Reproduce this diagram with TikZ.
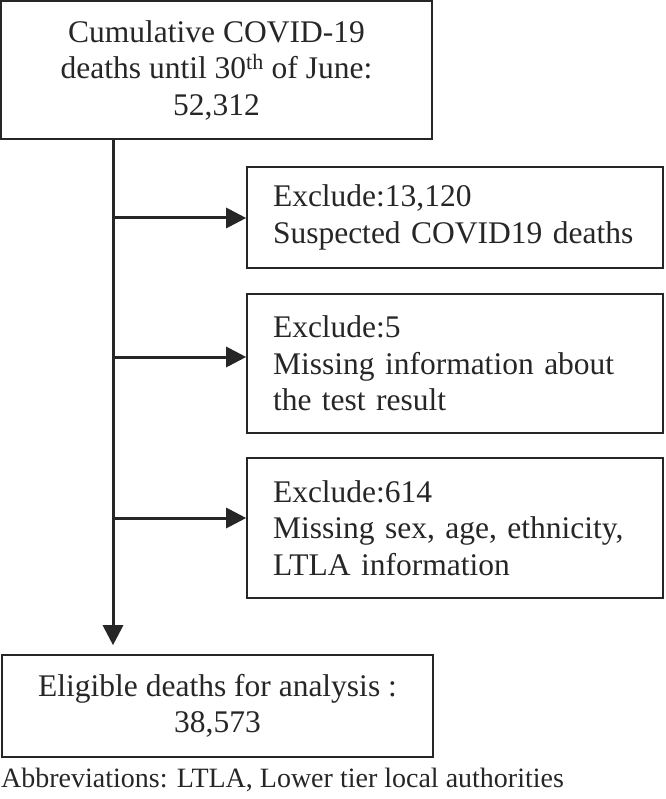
\documentclass[tikz,border=0pt]{standalone}
\usepackage{fontspec}
\setmainfont{Liberation Serif}
\usetikzlibrary{arrows.meta}
\definecolor{ink}{HTML}{262626}
\tikzset{
  mainbox/.style={draw=ink, line width=1.6pt, text=ink, inner sep=0pt, align=center,
    font=\fontsize{31.5}{36.5}\selectfont},
  exclbox/.style={mainbox, align=left, minimum width=416pt, text width=364pt, inner xsep=26pt},
  flowarrow/.style={draw=ink, line width=3pt, -{Triangle[length=20pt,width=20pt]}},
}
\begin{document}
\begin{tikzpicture}[x=1pt, y=-1pt]
  \useasboundingbox (0,0) rectangle (665,799);

  % Caixas
  \node[mainbox, minimum width=431pt, minimum height=138pt] (total) at (216.5,70)
    {Cumulative COVID-19\\deaths until 30\textsuperscript{th} of June:\\52,312};
  \node[exclbox, minimum height=101pt] (ex1) at (455,217.5)
    {Exclude:13,120\\Suspected COVID19 deaths};
  \node[exclbox, minimum height=139pt] (ex2) at (455,363.5)
    {Exclude:5\\Missing information about\\the test result};
  \node[exclbox, minimum height=140pt] (ex3) at (455,528)
    {Exclude:614\\Missing sex, age, ethnicity,\\LTLA information};
  \node[mainbox, minimum width=431pt, minimum height=102pt] (elig) at (217.5,706)
    {Eligible deaths for analysis :\\38,573};

  % Nota
  \node[anchor=base west, inner sep=0pt, text=ink, font=\fontsize{28}{32}\selectfont] (abbr) at (1,787)
    {Abbreviations: LTLA, Lower tier local authorities};

  % Pontos de ramificacao
  \coordinate (trunk) at ([xshift=-103.5pt]total.south);
  \coordinate (b1) at (113,218);
  \coordinate (b2) at (113,357);
  \coordinate (b3) at (113,518);

  % Setas
  \draw[flowarrow] (trunk) -- ([yshift=9pt]trunk |- elig.north);
  \draw[flowarrow] (b1) -- (b1 -| ex1.west);
  \draw[flowarrow] (b2) -- (b2 -| ex2.west);
  \draw[flowarrow] (b3) -- (b3 -| ex3.west);
\end{tikzpicture}
\end{document}
